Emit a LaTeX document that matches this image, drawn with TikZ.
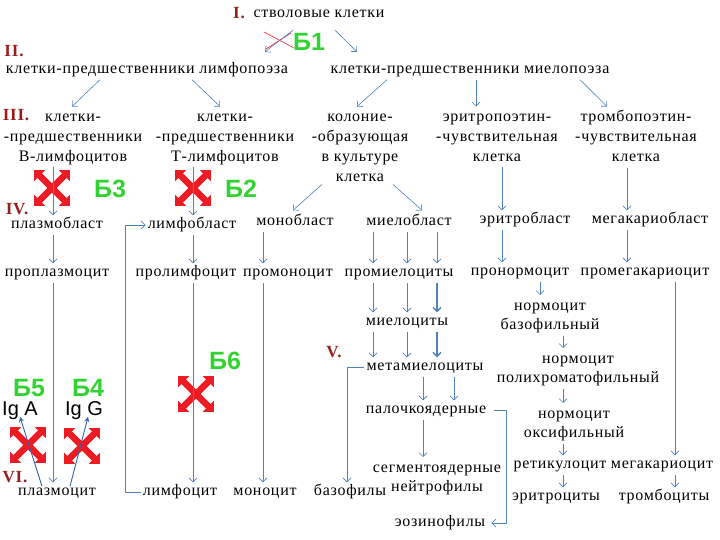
\documentclass[tikz,border=0pt]{standalone}
\usepackage{fontspec}
\setmainfont{Liberation Serif}[LetterSpace=4.5]
\setsansfont{Liberation Sans}
\usetikzlibrary{arrows.meta}
\definecolor{arrowblue}{RGB}{79,129,189}
\definecolor{igblue}{RGB}{50,95,175}
\definecolor{numred}{RGB}{150,30,30}
\definecolor{markgreen}{RGB}{50,210,50}
\definecolor{blockred}{RGB}{237,28,36}
\newcommand{\cellfont}{\fontsize{16}{20}\selectfont}
\newcommand{\pairfont}{\fontsize{16}{19}\selectfont}
\newcommand{\stopmark}[2]{%
  \draw [block] (#1-18,#2-18) -- (#1+18,#2+18);
  \draw [block] (#1-18,#2+18) -- (#1+18,#2-18);}
\tikzset{
  txt/.style={font=\cellfont, inner sep=2pt, text height=11pt, text depth=4pt},
  multi/.style={font=\cellfont, inner sep=0pt, align=center, anchor=north,
    execute at end node=\strut},
  pair/.style={multi, font=\pairfont},
  roman/.style={font=\fontsize{17}{20}\selectfont\bfseries, text=numred, inner sep=0pt},
  bmark/.style={font=\sffamily\bfseries\fontsize{25}{25}\selectfont, text=markgreen,
    inner sep=0pt, text height=18pt, text depth=0pt},
  ig/.style={font=\sffamily\fontsize{20}{20}\selectfont, inner sep=1pt,
    text height=15pt, text depth=4.5pt},
  arr/.style={arrowblue, line width=0.6pt, ->},
  igarr/.style={igblue, line width=0.9pt, -{Stealth[length=5pt,width=5pt]}},
  block/.style={blockred, line width=6.5pt,
    {Triangle[length=8pt,width=15pt]}-{Triangle[length=8pt,width=15pt]}}
}

\begin{document}
\begin{tikzpicture}[x=1pt, y=-1pt, line join=round,
    >={Straight Barb[length=4pt,width=8pt]}]
    \useasboundingbox (0,0) rectangle (720,540);

    % columns of the vertical arrows
    \coordinate (ca) at (53,0);
    \coordinate (cb) at (193,0);
    \coordinate (cc) at (263,0);
    \coordinate (cd) at (373,0);
    \coordinate (ce) at (407,0);
    \coordinate (cf) at (437,0);
    \coordinate (cg) at (502,0);
    \coordinate (ch) at (627,0);
    \coordinate (ci) at (423,0);
    \coordinate (cj) at (454,0);
    \coordinate (ck) at (675,0);
    \coordinate (cl) at (563,0);
    \coordinate (cm) at (540,0);

    % I - II
    \node [roman] (r1) at (239,13) {I.};
    \node [txt] (stem) at (319,14) {стволовые клетки};
    \node [roman] (r2) at (14,51) {II.};
    \node [txt] (lymphp) at (147,70) {клетки-предшественники лимфопоэза};
    \node [txt] (myelop) at (470,70) {клетки-предшественники миелопоэза};

    % III
    \node [roman] (r3) at (16,115) {III.};
    \node [multi] (bpre) at (73,113.5) {клетки-\\-предшественники\\В-лимфоцитов};
    \node [multi] (tpre) at (225,113.5) {клетки-\\-предшественники\\Т-лимфоцитов};
    \node [multi] (colony) at (360,113.5) {колоние-\\-образующая\\в культуре\\клетка};
    \node [multi] (epo) at (497,113.5) {эритропоэтин-\\-чувствительная\\клетка};
    \node [multi] (tpo) at (636,110) {тромбопоэтин-\\-чувствительная\\клетка};

    % IV
    \node [roman] (r4) at (17,209) {IV.};
    \node [txt] (plb) at (57,225) {плазмобласт};
    \node [txt] (lmb) at (192,225) {лимфобласт};
    \node [txt] (mnb) at (295,222) {монобласт};
    \node [txt] (myb) at (409,222) {миелобласт};
    \node [txt] (erb) at (525,220) {эритробласт};
    \node [txt] (mkb) at (650,220) {мегакариобласт};

    \node [txt] (ppl) at (57,273) {проплазмоцит};
    \node [txt] (plm) at (186,273) {пролимфоцит};
    \node [txt] (pmn) at (288,273) {промоноцит};
    \node [txt] (pmy) at (399,273) {промиелоциты};
    \node [txt] (pnm) at (520,272) {пронормоцит};
    \node [txt] (pmk) at (645,272) {промегакариоцит};

    \node [pair] (nb) at (550,303) {нормоцит\\базофильный};
    \node [txt] (my) at (407,322) {миелоциты};

    % V
    \node [roman] (r5) at (334,352) {V.};
    \node [txt] (mmy) at (425,367) {метамиелоциты};
    \node [pair] (np) at (578,356) {нормоцит\\полихроматофильный};
    \node [txt] (pal) at (426,410) {палочкоядерные};
    \node [pair] (nox) at (574,411) {нормоцит\\оксифильный};
    \node [pair] (seg) at (437,465) {сегментоядерные\\нейтрофилы};
    \node [txt] (ret) at (560,465) {ретикулоцит};
    \node [txt] (mkc) at (662,465) {мегакариоцит};

    % VI
    \node [roman] (r6) at (15,477) {VI.};
    \node [txt] (pc) at (57,492) {плазмоцит};
    \node [txt] (lc) at (180,492) {лимфоцит};
    \node [txt] (mc) at (265,492) {моноцит};
    \node [txt] (baso) at (350,492) {базофилы};
    \node [txt] (ery) at (556,497) {эритроциты};
    \node [txt] (thr) at (664,497) {тромбоциты};
    \node [txt] (eos) at (440,523) {эозинофилы};

    % antibodies
    \node [ig] (iga) at (20,410) {Ig A};
    \node [ig] (igg) at (84,410) {Ig G};

    % blocks
    \stopmark{52}{188}
    \stopmark{193}{188}
    \stopmark{196}{394}
    \stopmark{28}{445}
    \stopmark{82}{446}
    \draw [blockred, line width=0.6pt] (264,32) -- (294,48);
    \draw [blockred, line width=0.6pt] (266,49) -- (291,33);

    \node [bmark] (b1) at (309,42) {Б1};
    \node [bmark] (b2) at (241,188) {Б2};
    \node [bmark] (b3) at (110,188) {Б3};
    \node [bmark] (b4) at (88,387) {Б4};
    \node [bmark] (b5) at (29,387) {Б5};
    \node [bmark] (b6) at (225,360) {Б6};

    % arrows I - III
    \draw [arr] ([xshift=-26pt,yshift=-6.5pt]stem.south) -- ([xshift=118pt,yshift=8.5pt]lymphp.north);
    \draw [arr] ([xshift=16pt,yshift=-6.5pt]stem.south) -- ([xshift=-113pt,yshift=8.5pt]myelop.north);
    \draw [arr] ([xshift=-47pt]lymphp.south) -- ([xshift=-1pt,yshift=7pt]bpre.north);
    \draw [arr] ([xshift=45pt]lymphp.south) -- ([xshift=-5pt,yshift=7pt]tpre.north);
    \draw [arr] ([xshift=-83pt]myelop.south) -- ([xshift=-3pt,yshift=7pt]colony.north);
    \draw [arr] ([xshift=6pt]myelop.south) -- ([xshift=-21pt,yshift=7pt]epo.north);
    \draw [arr] ([xshift=110pt]myelop.south) -- ([xshift=-29pt,yshift=3.5pt]tpo.north);

    % arrows III - IV
    \draw [arr] (bpre.south -| ca) -- (plb.north -| ca);
    \draw [arr] (tpre.south -| cb) -- (lmb.north -| cb);
    \draw [arr] ([xshift=-38pt,yshift=3pt]colony.south) -- ([xshift=-2pt,yshift=2pt]mnb.north);
    \draw [arr] ([xshift=33pt,yshift=3pt]colony.south) -- ([xshift=13pt,yshift=2pt]myb.north);
    \draw [arr] (epo.south -| cg) -- (erb.north -| cg);
    \draw [arr] (tpo.south -| ch) -- (mkb.north -| ch);

    % blasts
    \draw [arr] (plb.south -| ca) -- (ppl.north -| ca);
    \draw [arr] (lmb.south -| cb) -- (plm.north -| cb);
    \draw [arr] (mnb.south -| cc) -- (pmn.north -| cc);
    \draw [arr] (myb.south -| cd) -- (pmy.north -| cd);
    \draw [arr] (myb.south -| ce) -- (pmy.north -| ce);
    \draw [arr] (myb.south -| cf) -- (pmy.north -| cf);
    \draw [arr] (erb.south -| cg) -- (pnm.north -| cg);
    \draw [arr] (mkb.south -| ch) -- (pmk.north -| ch);

    % granulocytes
    \draw [arr] (pmy.south -| cd) -- (my.north -| cd);
    \draw [arr] (pmy.south -| ce) -- (my.north -| ce);
    \draw [arr, line width=1.3pt] (pmy.south -| cf) -- (my.north -| cf);
    \draw [arr] (my.south -| cd) -- (mmy.north -| cd);
    \draw [arr] (my.south -| ce) -- (mmy.north -| ce);
    \draw [arr, line width=1.3pt] (my.south -| cf) -- (mmy.north -| cf);
    \draw [arr] (mmy.south -| ci) -- (pal.north -| ci);
    \draw [arr] (mmy.south -| cj) -- (pal.north -| cj);
    \draw [arr] (pal.south -| ci) -- ([yshift=8pt]seg.north -| ci);
    \draw [arr] (mmy.west) -| ([xshift=-3pt]baso.north);
    \draw [arr] ([xshift=6pt]pal.east) -- ++(12,0) |- ([xshift=4pt]eos.east);

    % erythrocytes and platelets
    \draw [arr] (pnm.south -| cm) -- ([yshift=8pt]nb.north -| cm);
    \draw [arr] (nb.south -| cl) -- ([yshift=8pt]np.north -| cl);
    \draw [arr] (np.south -| cl) -- ([yshift=8pt]nox.north -| cl);
    \draw [arr] (nox.south -| cl) -- (ret.north -| cl);
    \draw [arr] (ret.south -| cl) -- (ery.north -| cl);
    \draw [arr] (pmk.south -| ck) -- (mkc.north -| ck);
    \draw [arr] (mkc.south -| ck) -- (thr.north -| ck);

    % lymphocytes, monocytes
    \draw [arr] (ppl.south -| ca) -- (pc.north -| ca);
    \draw [arr] (plm.south -| cb) -- (lc.north -| cb);
    \draw [arr] (pmn.south -| cc) -- (mc.north -| cc);
    \draw [arr] (lc.west) -- ++(-15,0) |- (lmb.west);

    % plasma cell to antibodies
    \draw [igarr] ([xshift=-15pt,yshift=-4pt]pc.north) -- ([yshift=4pt]iga.south);
    \draw [igarr] ([xshift=13pt,yshift=-4pt]pc.north) -- ([xshift=4pt,yshift=4pt]igg.south);
\end{tikzpicture}
\end{document}
